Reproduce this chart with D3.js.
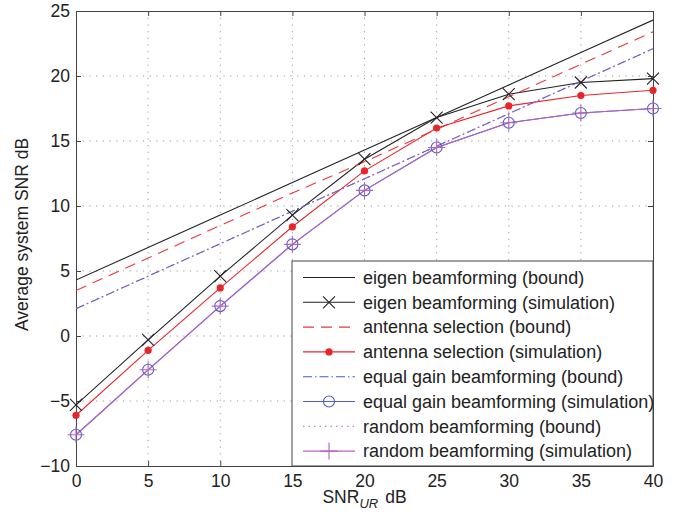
<!DOCTYPE html>
<html>
<head>
<meta charset="utf-8">
<script src="https://cdn.jsdelivr.net/npm/d3@7"></script>
<style>
  html, body { margin: 0; padding: 0; background: #fff; }
  svg { display: block; font-family: "Liberation Sans", Arial, sans-serif; }
</style>
</head>
<body>
<svg id="chart"></svg>
<script>
// data
const snrUR = [0, 5, 10, 15, 20, 25, 30, 35, 40];
const eigenBound = [4.3, 6.8, 9.3, 11.8, 14.3, 16.8, 19.3, 21.8, 24.3];
const eigenSim = [-5.3, -0.3, 4.6, 9.3, 13.6, 16.8, 18.6, 19.5, 19.8];
const antennaBound = [3.5, 6.0, 8.5, 11.0, 13.4, 15.9, 18.4, 20.9, 23.4];
const antennaSim = [-6.1, -1.1, 3.7, 8.4, 12.7, 16.0, 17.7, 18.5, 18.9];
const equalBound = [2.1, 4.6, 7.1, 9.6, 12.1, 14.6, 17.1, 19.6, 22.1];
const equalSim = [-7.6, -2.6, 2.3, 7.05, 11.2, 14.5, 16.4, 17.15, 17.5];
const randomBound = [2.1, 4.6, 7.1, 9.6, 12.1, 14.6, 17.1, 19.6, 22.1];
const randomSim = [-7.6, -2.6, 2.3, 7.05, 11.2, 14.5, 16.4, 17.15, 17.5];
const xTicks = [0, 5, 10, 15, 20, 25, 30, 35, 40];
const yTicks = [-10, -5, 0, 5, 10, 15, 20, 25];

const series = [
  { name: 'eigen beamforming (bound)', values: eigenBound, color: '#222', dash: null, marker: null },
  { name: 'eigen beamforming (simulation)', values: eigenSim, color: '#222', dash: null, marker: 'x' },
  { name: 'antenna selection (bound)', values: antennaBound, color: '#e8383c', dash: '11,7', marker: null },
  { name: 'antenna selection (simulation)', values: antennaSim, color: '#e8262a', dash: null, marker: 'dot' },
  { name: 'equal gain beamforming (bound)', values: equalBound, color: '#4d5ec4', dash: '9,3,1.5,3', marker: null },
  { name: 'equal gain beamforming (simulation)', values: equalSim, color: '#4d5ec4', dash: null, marker: 'circle' },
  { name: 'random beamforming (bound)', values: randomBound, color: '#c055b8', dash: '1.5,4', marker: null, offset: 5 },
  { name: 'random beamforming (simulation)', values: randomSim, color: '#b463c4', dash: null, marker: 'plus' },
];

const width = 679, height = 520;
const margin = { top: 11, right: 26, bottom: 54, left: 76 };
const innerWidth = width - margin.left - margin.right;
const innerHeight = height - margin.top - margin.bottom;
const fontSize = '17.5px';

const svg = d3.select('#chart')
  .attr('width', width)
  .attr('height', height)
  .attr('viewBox', `0 0 ${width} ${height}`);

const x = d3.scaleLinear().domain([0, 40]).range([0, innerWidth]);
const y = d3.scaleLinear().domain([-10, 25]).range([innerHeight, 0]);

const g = svg.append('g').attr('transform', `translate(${margin.left},${margin.top})`);

g.append('defs').append('clipPath').attr('id', 'clip')
  .append('rect').attr('width', innerWidth).attr('height', innerHeight);

// dotted grid
g.append('g')
  .selectAll('line.vg')
  .data(xTicks.slice(1, -1))
  .join('line')
  .attr('x1', d => x(d)).attr('x2', d => x(d))
  .attr('y1', 0).attr('y2', innerHeight)
  .attr('stroke', '#9a9a9a').attr('stroke-width', 1)
  .attr('stroke-dasharray', '1.2,5.5');

g.append('g')
  .selectAll('line.hg')
  .data(yTicks.slice(1, -1))
  .join('line')
  .attr('y1', d => y(d)).attr('y2', d => y(d))
  .attr('x1', 0).attr('x2', innerWidth)
  .attr('stroke', '#9a9a9a').attr('stroke-width', 1)
  .attr('stroke-dasharray', '1.2,5.5');

// axes (ticks inward on all four sides)
const tickColor = '#444';
const axB = g.append('g').attr('transform', `translate(0,${innerHeight})`)
  .call(d3.axisBottom(x).tickValues(xTicks).tickSize(-5).tickPadding(9));
const axL = g.append('g')
  .call(d3.axisLeft(y).tickValues(yTicks).tickSize(-5).tickPadding(6)
    .tickFormat(d => d < 0 ? '\u2212' + Math.abs(d) : d));
const axT = g.append('g')
  .call(d3.axisTop(x).tickValues(xTicks).tickSize(-5).tickFormat(''));
const axR = g.append('g').attr('transform', `translate(${innerWidth},0)`)
  .call(d3.axisRight(y).tickValues(yTicks).tickSize(-5).tickFormat(''));

[axB, axL, axT, axR].forEach(a => {
  a.select('.domain').attr('stroke', tickColor);
  a.selectAll('.tick line').attr('stroke', tickColor);
  a.selectAll('.tick text')
    .attr('fill', '#222')
    .attr('font-size', fontSize)
    .attr('font-family', '"Liberation Sans", Arial, sans-serif');
});

// series
const lineGen = d3.line().x((d, i) => x(snrUR[i])).y(d => y(d));
const plot = g.append('g').attr('clip-path', 'url(#clip)');

function drawMarker(sel, type, color, cx, cy) {
  if (type === 'x') {
    const s = 6;
    sel.append('path')
      .attr('d', `M${cx - s},${cy - s}L${cx + s},${cy + s}M${cx - s},${cy + s}L${cx + s},${cy - s}`)
      .attr('stroke', color).attr('stroke-width', 1.1).attr('fill', 'none');
  } else if (type === 'dot') {
    sel.append('circle').attr('cx', cx).attr('cy', cy).attr('r', 3.6).attr('fill', color);
  } else if (type === 'circle') {
    sel.append('circle').attr('cx', cx).attr('cy', cy).attr('r', 5.5)
      .attr('fill', 'none').attr('stroke', color).attr('stroke-width', 1.1);
  } else if (type === 'plus') {
    const s = 8.5;
    sel.append('path')
      .attr('d', `M${cx - s},${cy}L${cx + s},${cy}M${cx},${cy - s}L${cx},${cy + s}`)
      .attr('stroke', color).attr('stroke-width', 1.1).attr('fill', 'none');
  }
}

series.forEach(s => {
  plot.append('path')
    .datum(s.values)
    .attr('d', lineGen)
    .attr('fill', 'none')
    .attr('stroke', s.color)
    .attr('stroke-width', 1.1)
    .attr('stroke-dasharray', s.dash)
    .attr('stroke-dashoffset', s.offset || 0);
});

const markLayer = g.append('g');
series.forEach(s => {
  if (!s.marker) return;
  s.values.forEach((v, i) => drawMarker(markLayer, s.marker, s.color, x(snrUR[i]), y(v)));
});

// legend
const lg = svg.append('g');
const lgX = 292, lgY = 261, lgW = 653 - 292, lgH = 466 - 261;
lg.append('rect')
  .attr('x', lgX).attr('y', lgY).attr('width', lgW).attr('height', lgH)
  .attr('fill', '#fff').attr('stroke', '#444').attr('stroke-width', 1);

series.forEach((s, i) => {
  const cy = lgY + 16.5 + i * 24.8;
  lg.append('line')
    .attr('x1', 303).attr('x2', 355).attr('y1', cy).attr('y2', cy)
    .attr('stroke', s.color).attr('stroke-width', 1.1)
    .attr('stroke-dasharray', s.dash);
  if (s.marker) drawMarker(lg, s.marker, s.color, 329, cy);
  lg.append('text')
    .attr('x', 363).attr('y', cy)
    .attr('dy', '0.35em')
    .attr('font-size', '18px')
    .attr('fill', '#222')
    .text(s.name);
});

// axis labels
svg.append('text')
  .attr('transform', `translate(22,${margin.top + innerHeight / 2 - 4}) rotate(-90)`)
  .attr('text-anchor', 'middle')
  .attr('dy', '0.35em')
  .attr('font-size', fontSize)
  .attr('fill', '#222')
  .text('Average system SNR dB');

const xl = svg.append('text')
  .attr('x', margin.left + innerWidth / 2)
  .attr('y', 503)
  .attr('text-anchor', 'middle')
  .attr('font-size', fontSize)
  .attr('fill', '#222');
xl.append('tspan').text('SNR');
xl.append('tspan').attr('font-size', '13px').attr('font-style', 'italic').attr('dy', 5).text('UR');
xl.append('tspan').attr('dy', -5).text('\u2009\u2009dB');
</script>
</body>
</html>
